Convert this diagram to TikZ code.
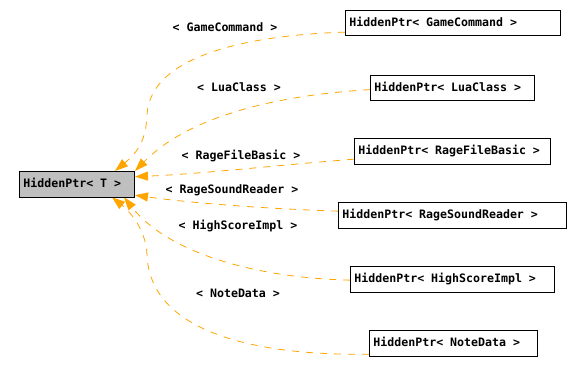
\documentclass[tikz,border=0pt]{standalone}
\usepackage{fontspec}
\setmonofont{DejaVu Sans Mono}
\usetikzlibrary{arrows.meta,backgrounds}
\definecolor{edgeorange}{HTML}{FFA500}
\definecolor{basegray}{HTML}{BFBFBF}

\begin{document}
\begin{tikzpicture}[x=1pt,y=-1pt,
  every node/.style={font=\fontsize{11.6}{14}\ttfamily\bfseries},
  cls/.style={draw=black, line width=0.8pt, fill=white, inner xsep=4pt,
    inner ysep=0pt, minimum height=25.5pt, text height=9.5pt,
    text depth=2.5pt, align=flush left, anchor=north west},
  basecls/.style={cls, fill=basegray},
  tmpl/.style={draw=edgeorange, line width=0.8pt, dash pattern=on 7pt off 7pt,
    -{Triangle[length=13pt,width=9pt]}},
  arg/.style={inner sep=0pt, anchor=base}
]
\useasboundingbox (0,0) rectangle (585,374);

% template and its instantiations
\node[basecls, text width=107.2pt] (base) at (19,171) {HiddenPtr< T >};
\node[cls, text width=207.2pt] (gc)  at (345,10)  {HiddenPtr< GameCommand >};
\node[cls, text width=156.2pt] (lc)  at (370,75)  {HiddenPtr< LuaClass >};
\node[cls, text width=188.2pt] (rfb) at (354,138) {HiddenPtr< RageFileBasic >};
\node[cls, text width=220.2pt] (rsr) at (338,202) {HiddenPtr< RageSoundReader >};
\node[cls, text width=196.2pt] (hsi) at (350,266) {HiddenPtr< HighScoreImpl >};
\node[cls, text width=160.2pt] (nd)  at (369,330) {HiddenPtr< NoteData >};

% template argument labels
\node[arg] (lgc)  at (225,32)  {< GameCommand >};
\node[arg] (llc)  at (239,92)  {< LuaClass >};
\node[arg] (lrfb) at (241,160) {< RageFileBasic >};
\node[arg] (lrsr) at (232,193) {< RageSoundReader >};
\node[arg] (lhsi) at (238,229) {< HighScoreImpl >};
\node[arg] (lnd)  at (238,297) {< NoteData >};

% instantiation edges
\begin{scope}[on background layer]
\draw[tmpl] ([yshift=-9pt]gc.west) .. controls (250,35) and (150,55) .. (147,115)
  .. controls (146,140) and (138,152) .. ([xshift=38pt]base.north);
\draw[tmpl] ([yshift=-1.5pt]lc.west) .. controls (280,95) and (190,115) .. (base.north east);
\draw[tmpl] ([yshift=-8pt]rfb.west) .. controls (280,165) and (200,174) .. ([yshift=7.5pt]base.east);
\draw[tmpl] ([yshift=4pt]rsr.west) .. controls (270,209) and (190,203) .. ([yshift=-11pt]base.east);
\draw[tmpl] ([yshift=-1pt]hsi.west) .. controls (260,278) and (170,255) .. ([xshift=47pt]base.south);
\draw[tmpl] ([yshift=-11pt]nd.west) .. controls (250,356) and (150,330) .. (147,255)
  .. controls (146,228) and (128,210) .. ([xshift=35pt]base.south);
\end{scope}
\end{tikzpicture}
\end{document}
